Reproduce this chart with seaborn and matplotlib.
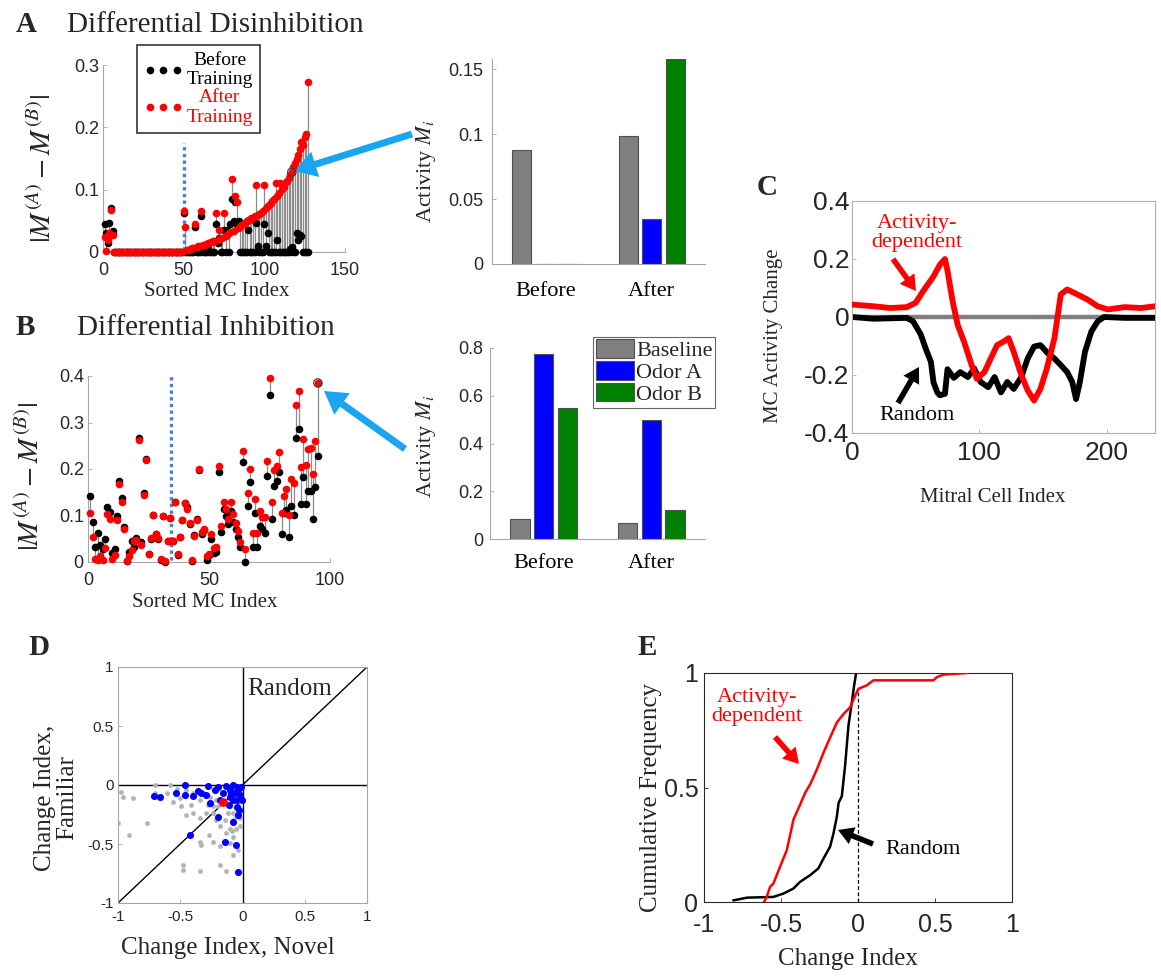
import numpy as np
import pandas as pd
import seaborn as sns
import matplotlib.pyplot as plt
from matplotlib.lines import Line2D

# ---------------- data ----------------
# A: differential disinhibition, |M(A)-M(B)| per sorted MC index
a_before = [0.045, 0.030, 0.015, 0.047, 0.070, 0.033] + [0.0] * 43 + [
    0.062, 0.0, 0.0, 0.0, 0.0, 0.0, 0.0, 0.040, 0.0, 0.0,            # 50-59
    0.0, 0.058, 0.0, 0.0, 0.0, 0.005, 0.0, 0.0, 0.0, 0.0,            # 60-69
    0.045, 0.015, 0.022, 0.0, 0.0, 0.035, 0.0, 0.035, 0.0, 0.045,    # 70-79
    0.085, 0.050, 0.080, 0.045, 0.050, 0.0, 0.0, 0.0, 0.0, 0.0,      # 80-89
    0.035, 0.0, 0.0, 0.0, 0.0, 0.047, 0.010, 0.0, 0.0, 0.0,          # 90-99
    0.045, 0.010, 0.030, 0.0, 0.0, 0.0, 0.0, 0.0, 0.020, 0.0,        # 100-109
    0.0, 0.0, 0.0, 0.0, 0.0, 0.0, 0.005, 0.008, 0.0, 0.0,            # 110-119
    0.030, 0.020, 0.028, 0.025, 0.0, 0.0, 0.0, 0.0]                  # 120-127
a_after = [0.024, 0.002, 0.020, 0.030, 0.067, 0.028] + [0.0] * 43 + [
    0.066, 0.040, 0.003, 0.004, 0.005, 0.006, 0.007, 0.045, 0.008, 0.009,
    0.010, 0.066, 0.011, 0.012, 0.013, 0.014, 0.015, 0.016, 0.017, 0.018,
    0.062, 0.020, 0.035, 0.022, 0.023, 0.062, 0.026, 0.028, 0.030, 0.032,
    0.117, 0.034, 0.090, 0.080, 0.038, 0.041, 0.043, 0.045, 0.047, 0.049,
    0.051, 0.052, 0.054, 0.055, 0.057, 0.108, 0.059, 0.061, 0.063, 0.066,
    0.107, 0.070, 0.073, 0.076, 0.079, 0.082, 0.085, 0.110, 0.090, 0.094,
    0.110, 0.101, 0.105, 0.110, 0.114, 0.118, 0.123, 0.128, 0.137, 0.142,
    0.150, 0.156, 0.165, 0.176, 0.172, 0.185, 0.189, 0.272]
a_split = 50
a_split_top = 0.175
a_highlight = 117

# B: differential inhibition
b_before = [
    0.143, 0.085, 0.033, 0.063, 0.036, 0.027, 0.050, 0.118, 0.108, 0.020,
    0.028, 0.098, 0.175, 0.137, 0.075, 0.002, 0.022, 0.045, 0.032, 0.052,
    0.267, 0.042, 0.148, 0.222, 0.017, 0.050, 0.102, 0.060, 0.050, 0.005,
    0.100, 0.001, 0.045, 0.095, 0.045, 0.130, 0.016, 0.053, 0.090, 0.126,
    0.118, 0.082, 0.003, 0.058, 0.092, 0.197, 0.060, 0.068, 0.005, 0.015,
    0.049, 0.020, 0.022, 0.194, 0.064, 0.115, 0.099, 0.082, 0.110, 0.087,
    0.070, 0.053, 0.033, 0.214, 0.001, 0.120, 0.171, 0.033, 0.105, 0.033,
    0.077, 0.072, 0.062, 0.184, 0.359, 0.092, 0.163, 0.174, 0.194, 0.060,
    0.105, 0.112, 0.054, 0.120, 0.101, 0.266, 0.287, 0.124, 0.183, 0.124,
    0.152, 0.152, 0.093, 0.161, 0.227]
b_after = [
    0.106, 0.053, 0.006, 0.004, 0.012, 0.004, 0.030, 0.103, 0.093, 0.007,
    0.016, 0.090, 0.167, 0.128, 0.070, 0.002, 0.012, 0.026, 0.045, 0.048,
    0.262, 0.037, 0.145, 0.220, 0.018, 0.052, 0.102, 0.060, 0.052, 0.007,
    0.100, 0.002, 0.045, 0.095, 0.045, 0.130, 0.018, 0.054, 0.090, 0.127,
    0.115, 0.083, 0.004, 0.056, 0.090, 0.200, 0.065, 0.070, 0.012, 0.017,
    0.060, 0.030, 0.033, 0.206, 0.077, 0.130, 0.115, 0.092, 0.130, 0.103,
    0.083, 0.067, 0.042, 0.239, 0.027, 0.148, 0.199, 0.063, 0.135, 0.063,
    0.110, 0.097, 0.097, 0.218, 0.395, 0.129, 0.198, 0.206, 0.237, 0.106,
    0.142, 0.158, 0.101, 0.178, 0.169, 0.338, 0.368, 0.204, 0.265, 0.208,
    0.242, 0.246, 0.190, 0.260, 0.385]
b_split = 34.5
b_split_top = 0.4
b_highlight = 95

# bar insets
phases = ['Before', 'After']
stimuli = ['Baseline', 'Odor A', 'Odor B']
a_bar_baseline = [0.088, 0.099]
a_bar_odor_a = [0.0, 0.035]
a_bar_odor_b = [0.0, 0.158]
b_bar_baseline = [0.085, 0.065]
b_bar_odor_a = [0.775, 0.500]
b_bar_odor_b = [0.550, 0.120]

# C: MC activity change
c_idx_act = [0, 17, 30, 43, 50, 56, 64, 69, 73, 75, 79, 83, 88, 94, 98, 104, 109,
             114, 119, 123, 127, 133, 138, 143, 148, 153, 159, 164, 169, 177, 185,
             193, 201, 214, 227, 238]
c_act = [0.043, 0.037, 0.031, 0.034, 0.049, 0.090, 0.140, 0.180, 0.200, 0.160, 0.055,
         -0.027, -0.085, -0.166, -0.213, -0.190, -0.143, -0.097, -0.085, -0.073,
         -0.120, -0.200, -0.253, -0.288, -0.248, -0.178, -0.073, 0.078, 0.095, 0.078,
         0.060, 0.037, 0.026, 0.034, 0.031, 0.037]
c_idx_rand = [0, 17, 43, 48, 54, 58, 62, 64, 67, 69, 73, 75, 80, 85, 91, 96, 101, 107,
              112, 117, 122, 127, 133, 138, 143, 148, 154, 159, 164, 169, 173, 176, 179,
              183, 188, 193, 198, 214, 238]
c_rand = [0.0, -0.006, -0.003, -0.015, -0.060, -0.110, -0.155, -0.225, -0.260, -0.270,
          -0.265, -0.180, -0.210, -0.190, -0.207, -0.178, -0.224, -0.242, -0.207, -0.260,
          -0.224, -0.248, -0.207, -0.143, -0.102, -0.097, -0.126, -0.143, -0.166, -0.190,
          -0.224, -0.283, -0.224, -0.120, -0.050, -0.015, 0.0, -0.003, -0.003]

# D: change index, novel vs familiar
d_rand_x = [-0.973, -0.96, -0.88, -1.0, -0.91, -0.77, -0.70, -0.70, -0.58, -0.50, -0.49,
            -0.41, -0.34, -0.29, -0.235, -0.21, -0.18, -0.14, -0.10, -0.075, -0.05, -0.02,
            -0.087, -0.13, -0.075, -0.34, -0.33, -0.27, -0.235, -0.18, -0.10, -0.075,
            -0.035, -0.18, -0.13, -0.34, -0.48, -0.48, -0.45, -0.40, -0.61, -0.53, -0.45,
            -0.32, -0.26, -0.21, -0.155, -0.10, -0.05, -0.02, -0.035, -0.34, -0.275,
            -0.235, -0.075, -0.05, -0.02, -0.10, -0.56, -0.40, -0.195, -0.115]
d_rand_y = [-0.056, -0.10, -0.113, -0.318, -0.42, -0.318, 0.0, -0.07, 0.0, -0.11, -0.18,
            -0.17, -0.28, -0.24, -0.18, -0.30, -0.35, -0.30, -0.18, -0.30, -0.27, -0.28,
            -0.39, -0.41, -0.44, -0.48, -0.51, -0.42, -0.48, -0.52, -0.49, -0.59, -0.55,
            -0.68, -0.73, -0.73, -0.68, -0.72, -0.25, -0.24, -0.07, -0.03, -0.04, -0.07,
            -0.10, -0.13, -0.07, -0.03, -0.056, -0.13, -0.18, -0.13, -0.17, -0.24, -0.24,
            -0.37, -0.35, -0.37, -0.14, -0.07, -0.18, -0.24]
d_act_x = [-0.71, -0.66, -0.535, -0.46, -0.46, -0.40, -0.356, -0.33, -0.275, -0.29, -0.26,
           -0.22, -0.195, -0.155, -0.13, -0.10, -0.075, -0.06, -0.047, -0.034, -0.02,
           -0.015, -0.105, -0.075, -0.047, -0.026, -0.034, -0.08, -0.195, -0.42, -0.14,
           -0.052, -0.034, -0.10, -0.007, -0.044, -0.09, -0.18]
d_act_y = [-0.093, -0.104, -0.07, 0.0, -0.085, -0.093, -0.048, -0.065, -0.006, -0.085,
           -0.155, -0.042, -0.014, -0.07, -0.006, -0.042, 0.0, -0.07, -0.014, -0.042,
           -0.085, -0.014, -0.17, -0.127, -0.183, -0.21, -0.25, -0.31, -0.268, -0.42,
           -0.487, -0.51, -0.735, -0.10, -0.127, -0.127, -0.07, -0.127]
d_mean_x = [-0.16]
d_mean_y = [-0.14]

# E: cumulative frequency of change index
e_act_x = [-0.61, -0.593, -0.571, -0.55, -0.506, -0.462, -0.419, -0.376, -0.343, -0.311,
           -0.267, -0.224, -0.181, -0.137, -0.094, -0.051, -0.018, 0.003, 0.057, 0.10,
           0.49, 0.512, 0.556, 0.708]
e_act_y = [0.0, 0.022, 0.066, 0.08, 0.154, 0.227, 0.36, 0.425, 0.477, 0.513, 0.579, 0.652,
           0.718, 0.784, 0.821, 0.85, 0.902, 0.931, 0.946, 0.968, 0.968, 0.982, 0.993, 1.0]
e_rand_x = [-0.81, -0.72, -0.55, -0.484, -0.419, -0.376, -0.311, -0.257, -0.224, -0.181,
            -0.159, -0.137, -0.126, -0.105, -0.084, -0.062, -0.04, -0.025, -0.012]
e_rand_y = [0.007, 0.019, 0.022, 0.037, 0.059, 0.088, 0.117, 0.147, 0.19, 0.242, 0.30,
            0.374, 0.433, 0.462, 0.594, 0.77, 0.872, 0.946, 1.0]

# ---------------- style ----------------
sns.set_style('ticks')
plt.rcParams['font.family'] = ['Liberation Sans', 'DejaVu Sans']
plt.rcParams['mathtext.fontset'] = 'stix'
plt.rcParams['axes.unicode_minus'] = False
SERIF = 'Liberation Serif'
BAR_COLORS = ['#808080', '#0000ff', '#008000']
ARROW_BLUE = '#1aa5ee'

W, H = 1161, 976
fig = plt.figure(figsize=(W / 100, H / 100), dpi=100)


def add_ax(l, t, r, b):
    return fig.add_axes([l / W, 1 - b / H, (r - l) / W, (b - t) / H])


def fp(x, y):
    return (x / W, 1 - y / H)


def style(ax, box=False, edge='#a6a6a6', size=13, xpad=6, ypad=3):
    for s in ['top', 'right']:
        ax.spines[s].set_visible(box)
    for s in ax.spines.values():
        s.set_color(edge)
        s.set_linewidth(0.8)
    ax.tick_params(direction='in', length=3, width=0.6, color=edge,
                   labelsize=size, labelcolor='#262626')
    ax.tick_params(axis='x', pad=xpad)
    ax.tick_params(axis='y', pad=ypad)


def ticks(ax, xt=None, yt=None, size=13):
    if xt is not None:
        ax.set_xticks(xt, [f'{v:g}' for v in xt], fontsize=size)
    if yt is not None:
        ax.set_yticks(yt, [f'{v:g}' for v in yt], fontsize=size)


def labels(ax, xl, yl, xpos, ypos, size):
    ax.set_xlabel(xl, fontfamily=SERIF, fontsize=size)
    ax.set_ylabel(yl, fontfamily=SERIF, fontsize=size)
    ax.xaxis.set_label_coords(*xpos)
    ax.yaxis.set_label_coords(*ypos)


def arrow(ax, tail, head, color, width=4, hw=13, hl=11):
    ax.annotate('', xy=fp(*head), xycoords='figure fraction',
                xytext=fp(*tail), textcoords='figure fraction',
                arrowprops=dict(facecolor=color, edgecolor='none', width=width,
                                headwidth=hw, headlength=hl, shrink=0),
                annotation_clip=False)


def stem_scatter(ax, before, after, split, split_top, hl):
    idx = list(range(1, len(before) + 1))
    ax.vlines(idx, before, after, colors='#8c8c8c', lw=0.9, zorder=1)
    ax.vlines(split, 0.004, split_top, colors='#4a7fd6', linestyles=(0, (1, 1)),
              lw=2.4, zorder=2)
    sns.scatterplot(x=idx, y=before, color='black', s=30, linewidth=0, ax=ax, zorder=3)
    sns.scatterplot(x=idx, y=after, color='red', s=30, linewidth=0, ax=ax, zorder=4)
    ax.scatter([hl], [after[hl - 1]], s=36, facecolor='none', edgecolor='#404040',
               linewidth=0.9, zorder=5)
    for c in ax.collections:
        c.set_clip_on(False)


def bar_frame(bl, oa, ob):
    return pd.DataFrame({
        'phase': phases * 3,
        'stimulus': [s for s in stimuli for _ in phases],
        'activity': bl + oa + ob,
    })


def panel_label(x, y, letter, title=None, tx=None):
    fig.text(*fp(x, y), letter, fontfamily=SERIF, fontweight='bold', fontsize=21,
             va='baseline')
    if title:
        fig.text(*fp(tx, y), title, fontfamily=SERIF, fontsize=21, va='baseline')


YL_AB = r'$|M^{(A)} - M^{(B)}|$'

# ---------------- A ----------------
panel_label(16, 32, 'A', 'Differential Disinhibition', 67)

ax = add_ax(103, 65, 345, 252)
stem_scatter(ax, a_before, a_after, a_split, a_split_top, a_highlight)
ax.set_xlim(0, 150)
ax.set_ylim(0, 0.3)
style(ax, xpad=7)
ticks(ax, [0, 50, 100, 150], [0, 0.1, 0.2, 0.3])
labels(ax, 'Sorted MC Index', YL_AB, (0.47, -0.16), (-0.19, 0.45), 15)
ax.yaxis.label.set_fontsize(21)
leg_handles = [Line2D([], [], ls='none', marker='o', ms=4.5, color='black'),
               Line2D([], [], ls='none', marker='o', ms=4.5, color='red')]
leg = ax.legend(leg_handles, ['Before\nTraining', 'After\nTraining'], numpoints=3,
                loc='upper left', bbox_to_anchor=(0.14, 1.107), borderaxespad=0,
                prop={'family': SERIF, 'size': 14}, frameon=True, fancybox=False,
                edgecolor='black', handlelength=2.0, handletextpad=0.2,
                labelspacing=0.05, borderpad=0.35)
leg.get_frame().set_linewidth(1.2)
for t, c in zip(leg.get_texts(), ['black', 'red']):
    t.set_color(c)
    t.set_multialignment('center')
ax.annotate('', xy=fp(294, 171), xycoords='figure fraction', xytext=fp(412, 134),
            textcoords='figure fraction',
            arrowprops=dict(facecolor=ARROW_BLUE, edgecolor='none', width=5,
                            headwidth=19, headlength=16, shrink=0),
            annotation_clip=False)

ax = add_ax(492, 59, 705, 264)
sns.barplot(data=bar_frame(a_bar_baseline, a_bar_odor_a, a_bar_odor_b), x='phase',
            y='activity', hue='stimulus', palette=BAR_COLORS, saturation=1, width=0.66,
            gap=0.18, edgecolor='#505050', linewidth=0.8, errorbar=None, legend=False,
            ax=ax)
ax.set_xlim(-0.5, 1.5)
ax.set_ylim(0, 0.158)
style(ax, ypad=6)
ax.tick_params(axis='x', length=0, pad=13)
ticks(ax, yt=[0, 0.05, 0.1, 0.15])
ax.set_xticks([0, 1], phases, fontfamily=SERIF, fontsize=16, color='black')
labels(ax, '', r'Activity $M_i$', (0.5, -0.1), (-0.254, 0.45), 16)

# ---------------- B ----------------
panel_label(16, 335, 'B', 'Differential Inhibition', 77)

ax = add_ax(88, 376, 330, 562)
stem_scatter(ax, b_before, b_after, b_split, b_split_top, b_highlight)
ax.set_xlim(0, 100)
ax.set_ylim(0, 0.4)
style(ax, xpad=7)
ticks(ax, [0, 50, 100], [0, 0.1, 0.2, 0.3, 0.4])
labels(ax, 'Sorted MC Index', YL_AB, (0.483, -0.165), (-0.178, 0.46), 15)
ax.yaxis.label.set_fontsize(21)
ax.annotate('', xy=fp(324, 391), xycoords='figure fraction', xytext=fp(405, 449),
            textcoords='figure fraction',
            arrowprops=dict(facecolor=ARROW_BLUE, edgecolor='none', width=5,
                            headwidth=19, headlength=16, shrink=0),
            annotation_clip=False)

ax = add_ax(490, 348, 705, 539)
sns.barplot(data=bar_frame(b_bar_baseline, b_bar_odor_a, b_bar_odor_b), x='phase',
            y='activity', hue='stimulus', palette=BAR_COLORS, saturation=1, width=0.66,
            gap=0.18, edgecolor='#505050', linewidth=0.8, errorbar=None, ax=ax)
ax.set_xlim(-0.5, 1.5)
ax.set_ylim(0, 0.8)
style(ax, ypad=5)
ax.tick_params(axis='x', length=0, pad=11)
ticks(ax, yt=[0, 0.2, 0.4, 0.6, 0.8])
ax.set_xticks([0, 1], phases, fontfamily=SERIF, fontsize=16, color='black')
labels(ax, '', r'Activity $M_i$', (0.5, -0.1), (-0.242, 0.487), 16)
h, l = ax.get_legend_handles_labels()
leg = ax.legend(h, l, loc='upper right', bbox_to_anchor=(1.047, 1.06), borderaxespad=0,
                prop={'family': SERIF, 'size': 16}, frameon=True, fancybox=False,
                edgecolor='#404040', handlelength=1.7, handleheight=0.9,
                handletextpad=0.1, labelspacing=0.0, borderpad=0.12)
leg.get_frame().set_linewidth(0.8)

# ---------------- C ----------------
panel_label(757, 195, 'C')
ax = add_ax(852, 201, 1155, 433)
ax.axhline(0, color='#808080', lw=3.2, zorder=1)
sns.lineplot(x=c_idx_rand, y=c_rand, color='black', lw=4.2, estimator=None, sort=False,
             ax=ax, zorder=2)
sns.lineplot(x=c_idx_act, y=c_act, color='red', lw=4.2, estimator=None, sort=False,
             ax=ax, zorder=3)
ax.set_xlim(0, 238)
ax.set_ylim(-0.4, 0.4)
style(ax, box=True, edge='#b0b0b0', size=19, xpad=6, ypad=2)
ticks(ax, [0, 100, 200], [-0.4, -0.2, 0, 0.2, 0.4], size=19)
labels(ax, 'Mitral Cell Index', 'MC Activity Change', (0.465, -0.235), (-0.228, 0.418), 15)
fig.text(*fp(917, 233), 'Activity-\ndependent', fontfamily=SERIF, fontsize=16,
         color='red', ha='center', va='center', linespacing=1.0)
fig.text(*fp(917, 416), 'Random', fontfamily=SERIF, fontsize=16, color='black',
         ha='center', va='center')
arrow(ax, (893, 259), (916, 291), 'red')
arrow(ax, (898, 403), (919, 367), 'black')

# ---------------- D ----------------
panel_label(28, 655, 'D')
ax = add_ax(118, 667, 367, 903)
ax.axhline(0, color='black', lw=1, zorder=1)
ax.axvline(0, color='black', lw=1, zorder=1)
ax.axline((0, 0), slope=1, color='black', lw=1, zorder=1)
sns.scatterplot(x=d_rand_x, y=d_rand_y, color='#b3b3b3', s=12, linewidth=0, ax=ax, zorder=2)
sns.scatterplot(x=d_act_x, y=d_act_y, color='#0000ff', s=26, linewidth=0, ax=ax, zorder=3)
sns.scatterplot(x=d_mean_x, y=d_mean_y, color='red', s=40, linewidth=0, ax=ax, zorder=4)
ax.set_xlim(-1, 1)
ax.set_ylim(-1, 1)
style(ax, box=True, edge='#a6a6a6', size=11, xpad=5, ypad=3)
ticks(ax, [-1, -0.5, 0, 0.5, 1], [-1, -0.5, 0, 0.5, 1], size=11)
labels(ax, 'Change Index, Novel', 'Change Index,\nFamiliar', (0.44, -0.145), (-0.16, 0.445), 18)
ax.yaxis.label.set_linespacing(1.0)
ax.text(0.04, 0.76, 'Random', fontfamily=SERIF, fontsize=18, ha='left', va='baseline')

# ---------------- E ----------------
panel_label(638, 655, 'E')
ax = add_ax(704, 673, 1012, 902)
ax.vlines(0, 0, 0.93, colors='black', linestyles=(0, (3, 2)), lw=0.9, zorder=1)
sns.lineplot(x=e_rand_x, y=e_rand_y, color='black', lw=1.8, estimator=None, sort=False,
             ax=ax, zorder=2)
sns.lineplot(x=e_act_x, y=e_act_y, color='red', lw=1.8, estimator=None, sort=False,
             ax=ax, zorder=3)
ax.set_xlim(-1, 1)
ax.set_ylim(0, 1)
style(ax, box=True, edge='#262626', size=18, xpad=8, ypad=4)
ticks(ax, [-1, -0.5, 0, 0.5, 1], [0, 0.5, 1], size=18)
labels(ax, 'Change Index', 'Cumulative Frequency', (0.468, -0.2), (-0.136, 0.458), 18)
fig.text(*fp(757, 707), 'Activity-\ndependent', fontfamily=SERIF, fontsize=16,
         color='red', ha='center', va='center', linespacing=1.05)
fig.text(*fp(923, 849), 'Random', fontfamily=SERIF, fontsize=16, color='black',
         ha='center', va='center')
arrow(ax, (775, 737), (799, 764), 'red')
arrow(ax, (873, 844), (838, 830), 'black')

fig.savefig('out.png', dpi=100)
